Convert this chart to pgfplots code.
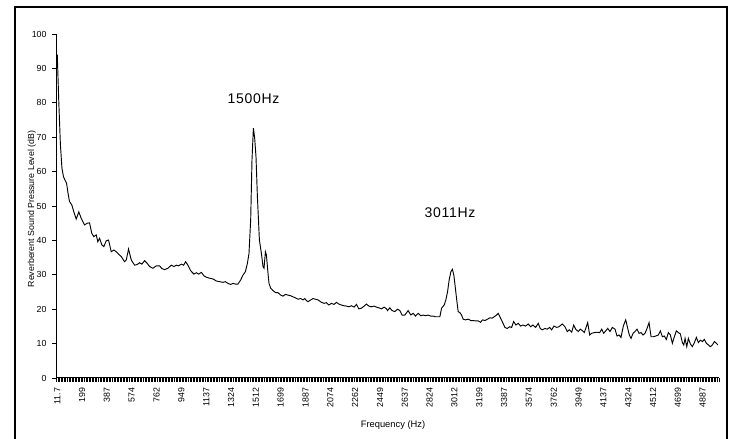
\documentclass[border=0pt]{standalone}
\usepackage{fontspec}
\setmainfont{Liberation Sans}
\usepackage{pgfplots}
\pgfplotsset{compat=1.18}
\pgfplotstableread{
x y
11.7 94
23.4 80
35.2 68
46.9 61
58.6 58.5
70.3 57.5
82 56.6
93.8 53.5
104 51.3
121.6 50.3
136.7 48.3
154.8 46.2
174.5 48.3
192.6 46.4
217.6 44.5
238 45
255.4 45.1
272.8 42
287.9 41.1
306 41.6
318.1 39.6
331 40.6
348.4 38.7
363.5 38.2
381.6 39.9
399 40.1
419.4 36.7
439.1 37.2
457.2 36.7
474.6 36
495 35.3
520 33.8
532.8 34.3
550.2 37.5
570.6 34.3
595.6 32.8
616 33
633.4 33.5
650.8 33.1
671.2 34.1
691.6 33.3
709 32.4
734 31.9
759.6 32.6
784.6 32.6
802 31.8
822.4 31.5
847.3 31.9
873 32.8
892.7 32.4
910.8 32.8
928.2 32.6
948.6 33.1
966 32.8
981.1 33.8
998.5 32.8
1018.9 31.2
1043.9 30.2
1062 30.6
1079.4 30.2
1099.8 30.7
1119.5 29.7
1137.6 29.3
1162.6 29
1187.5 28.8
1213.2 28.2
1238.2 28
1263.1 27.8
1281.3 28
1300.9 27.5
1321.3 27.2
1338.7 27.5
1357 27.3
1376.5 27.3
1397 28.5
1414.3 29.9
1432.5 30.9
1447.6 33.3
1459.7 36.2
1472.5 45.9
1482.4 63.4
1493 72.6
1502.8 69.7
1512.7 64.3
1523.3 52.7
1538.4 40.1
1553.5 36.2
1565.6 32.4
1573.2 31.9
1583.8 36.7
1591.3 35.8
1603.4 30.4
1611 27.5
1623.7 26.1
1641.1 25.4
1661.5 24.8
1678.9 24.8
1699.3 24.1
1716.7 23.8
1734.9 24.3
1754.5 24.1
1774.9 23.9
1792.3 23.6
1810.4 23.3
1830.1 22.9
1850.5 23.1
1867.9 22.7
1880.8 23.1
1893.6 22.5
1905.7 22.2
1926.1 22.7
1943.5 23.1
1961.6 22.9
1981.3 22.7
2007 22
2026.6 21.7
2044.8 21.9
2062.1 21.2
2082.6 21.7
2102.2 21.4
2120.4 22
2137.8 21.5
2158.1 21.2
2177.8 21
2196 20.9
2213.4 20.7
2233.8 21
2253.5 20.6
2271.6 21.4
2289 20.1
2309.4 20.3
2329 20.9
2347.2 21.5
2364.6 20.9
2385 20.7
2404.6 20.9
2422.8 20.6
2440.2 20.4
2460.6 20.1
2480.3 20.6
2498.4 20.1
2506 19.6
2523.4 20.4
2540.8 19.6
2561.2 19.3
2581.6 20
2599 19.6
2616.3 18.3
2636.8 18.3
2661.7 19.6
2682.1 18.3
2699.5 18.8
2717.6 18
2737.3 18.8
2757.7 18.1
2775.1 18.3
2793.2 18.1
2812.9 18.3
2833.3 18
2850.7 18
2868.8 17.8
2888.5 17.8
2901.4 17.8
2914.2 20.3
2933.9 21.2
2946.7 22.7
2959.6 25.1
2971.7 28.5
2984.5 30.9
2996 31.6
3007 29.9
3016 27
3027.6 23.1
3039.7 19.3
3052.6 19
3065.4 18.3
3077.5 17.1
3095.6 16.9
3115.3 17.1
3135.7 16.7
3153.1 16.7
3171.2 16.6
3190.9 16.6
3209 16.2
3224.1 16.9
3241.5 16.7
3261.9 17.1
3279.4 17.5
3296.8 17.4
3311.9 17.8
3330 18.3
3342.1 18.8
3355 17.8
3372.4 16.4
3392.8 14.7
3410.2 14.4
3428.3 14.9
3443.4 14.7
3458.5 16.4
3476 15.4
3493.3 15.9
3511.5 15.1
3528.9 15.4
3549.3 15.1
3568.9 15.7
3587.1 14.9
3604.5 15.4
3624.9 14.7
3644.5 15.9
3659.6 14.4
3674.7 14
3695.2 14.4
3712.5 14.2
3730.7 14.7
3745.8 14
3763.2 15.1
3783.6 14.7
3801 14.9
3825.9 15.7
3846.4 14.9
3863.8 13.5
3878.9 14
3897 13.3
3912.2 15.4
3927.3 14.2
3946.9 13.5
3962 14.2
3980.2 13.7
3992.3 13.2
4002.9 14.4
4018 16.1
4033.1 12.5
4048.2 13
4067.9 13.2
4088.3 13.3
4108.7 13.2
4123.8 14.2
4138.9 13
4154 13.7
4169.2 14.4
4186.6 13.5
4204 14.7
4224.4 14.2
4239.5 12.2
4254.6 12.5
4269.7 11.8
4287.1 15.1
4305.3 16.9
4320.4 14.4
4332.5 12.5
4345.3 11.5
4360.5 13
4375.6 13.5
4390.7 14.2
4405.8 13
4420.9 13.2
4436 12.5
4451.2 13
4466.3 14.4
4481.4 16.1
4496.5 12
4513.9 12
4532 12.2
4551.7 12.5
4566.8 13.7
4581.9 12
4597 12.2
4612.1 11.2
4627.3 13.2
4642.4 12.5
4657.5 10.1
4672.6 12
4687.7 13.7
4702.8 13.2
4718 12.8
4733.1 10.3
4743.7 9.6
4753.5 11.5
4766.3 9.1
4778.4 11.5
4793.5 9.9
4808.6 9.1
4823.8 10.3
4838.9 11.8
4854 10.3
4869.1 11
4884.2 10.6
4899.4 11.2
4914.5 10.1
4929.6 9.6
4944.7 9.1
4959.8 9.6
4974.9 10.6
4990.1 10.1
5000.7 9.6
}\spectrum
\begin{document}
\begin{tikzpicture}
\path[use as bounding box] (0,0) rectangle (549pt,329.25pt);
\draw[line width=0.9pt] (11.25pt,-3pt) -- (11.25pt,324pt) -- (545.25pt,324pt) -- (545.25pt,-3pt);
\begin{axis}[
  at={(42.375pt,45.75pt)}, anchor=south west,
  width=496.875pt, height=258pt, scale only axis,
  xmin=5.859375, xmax=5009.765625, ymin=0, ymax=100,
  axis x line*=bottom, axis y line*=left,
  axis line style={-, line width=0.75pt},
  ytick={0,10,...,100},
  xtick={11.71875,199.21875,...,4886.71875},
  xticklabels={11.7,199,387,574,762,949,1137,1324,1512,1699,1887,2074,2262,2449,2637,2824,3012,3199,3387,3574,3762,3949,4137,4324,4512,4699,4887},
  minor xtick={5.859375,17.578125,...,5009.765625},
  tick align=outside,
  major tick length=3.75pt, minor tick length=3pt,
  major x tick style={draw=none},
  minor x tick style={line width=0.6pt, black},
  ytick style={line width=0.6pt, black},
  tick label style={font=\fontsize{6.6}{7}\selectfont, inner sep=0pt},
  xticklabel style={rotate=90, anchor=east},
  yticklabel style={anchor=east},
  xticklabel shift=3.4pt,
  yticklabel shift=3.6pt,
  /pgf/number format/assume math mode=true,
  clip=false,
]
\addplot[black, line width=0.7pt, no marks] table[x=x, y=y] {\spectrum};
\end{axis}
\node[rotate=90, font=\fontsize{6.6}{8}\selectfont] at (23.8pt,172.5pt) {Reverberent Sound Pressure Level (dB)};
\node[font=\fontsize{7}{8}\selectfont] at (294.75pt,10.5pt) {Frequency (Hz)};
\node[font=\fontsize{10.5}{12}\selectfont\addfontfeature{LetterSpace=5}] at (190.1pt,255pt) {1500Hz};
\node[font=\fontsize{10.5}{12}\selectfont\addfontfeature{LetterSpace=5}] at (337.5pt,169.5pt) {3011Hz};
\end{tikzpicture}
\end{document}
